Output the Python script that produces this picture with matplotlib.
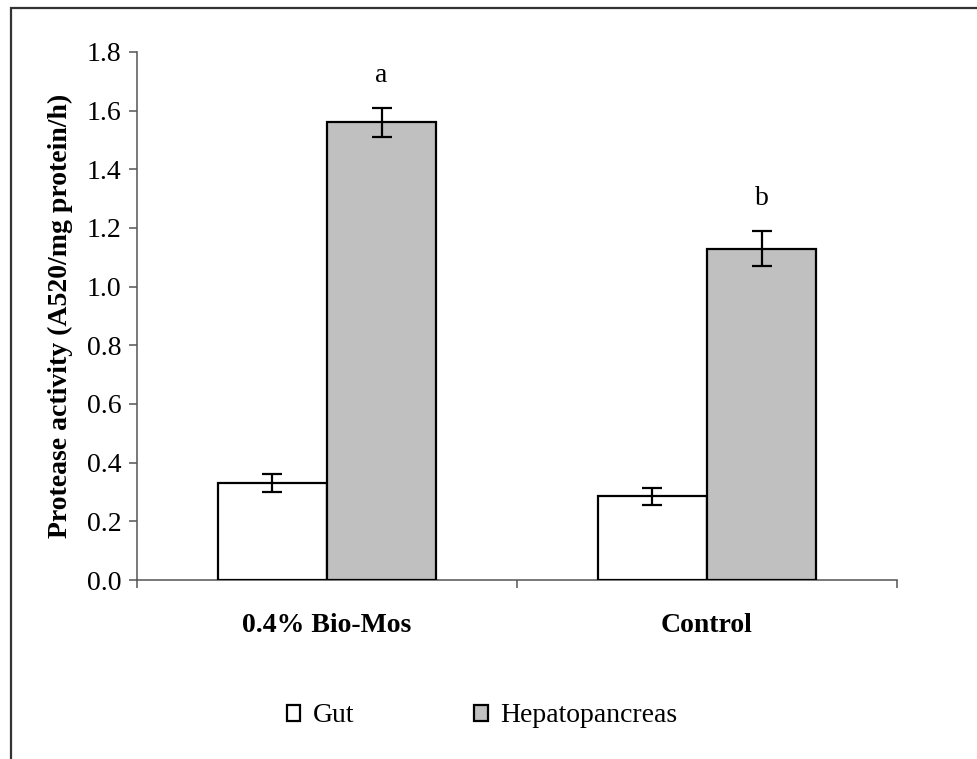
import matplotlib
matplotlib.use("Agg")
import matplotlib.pyplot as plt
import matplotlib.patches as mpatches
import numpy as np

# data
groups = ["0.4% Bio-Mos", "Control"]
gut = [0.33, 0.285]
gut_err = [0.03, 0.03]
hepato = [1.56, 1.13]
hepato_err = [0.05, 0.06]
letters = ["a", "b"]
letter_y = [1.72, 1.30]
yticks = np.arange(0.0, 1.81, 0.2)

plt.rcParams["font.family"] = ["Liberation Serif", "DejaVu Serif"]
plt.rcParams["font.size"] = 20

fig = plt.figure(figsize=(9.77, 7.59), dpi=100)
ax = fig.add_axes([137 / 977, 1 - 580 / 759, 760 / 977, 528 / 759])

# figure frame (only top and left visible in the reference)
fig.patches.append(mpatches.Rectangle((11 / 977, -0.2), 1.3, 1.2 - 8 / 759,
                                      transform=fig.transFigure, fill=False,
                                      edgecolor="#333333", linewidth=1.6))

x = np.arange(len(groups)) + 0.5
w = 0.287
ekw = dict(elinewidth=1.6, capthick=1.6, ecolor="black")
ax.bar(x - w / 2, gut, w, yerr=gut_err, capsize=7, color="white",
       edgecolor="black", linewidth=1.6, error_kw=ekw, label="Gut", zorder=3)
ax.bar(x + w / 2, hepato, w, yerr=hepato_err, capsize=7, color="#c0c0c0",
       edgecolor="black", linewidth=1.6, error_kw=ekw, label="Hepatopancreas", zorder=3)

for xi, lt, ly in zip(x, letters, letter_y):
    ax.text(xi + w / 2, ly, lt, ha="center", va="center", fontsize=20)

ax.set_xlim(0, 2)
ax.set_ylim(0, 1.8)
ax.set_yticks(yticks)
ax.set_yticklabels([f"{v:.1f}" for v in yticks])
ax.set_xticks([0, 1, 2])
ax.set_xticklabels([])
ax.set_xticks(x, minor=True)
ax.set_xticklabels(groups, minor=True, fontweight="bold")
ax.tick_params(axis="x", which="minor", length=0, pad=24)
ax.tick_params(axis="both", which="major", length=6, width=1.1, color="#555555", pad=5)

for s in ["top", "right"]:
    ax.spines[s].set_visible(False)
for s in ["left", "bottom"]:
    ax.spines[s].set_color("#555555")
    ax.spines[s].set_linewidth(1.1)

ax.set_ylabel("Protease activity (A520/mg protein/h)", fontweight="bold")
ax.yaxis.set_label_coords(-0.084, 0.5)

fig.legend(loc="center", bbox_to_anchor=(482 / 977, 1 - 716 / 759), ncol=2,
           frameon=False, handlelength=0.5, handleheight=0.5,
           handletextpad=0.45, columnspacing=4.3, fontsize=20)

fig.savefig("out.png", dpi=100, facecolor="white")
